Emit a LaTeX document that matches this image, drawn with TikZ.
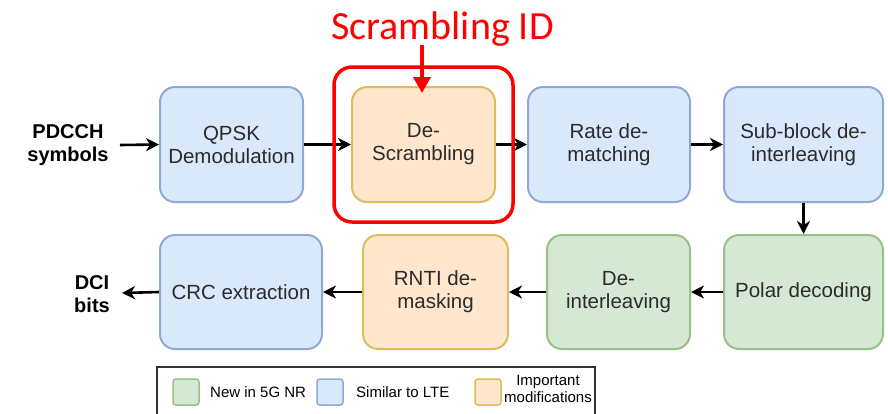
\documentclass[tikz,border=0pt]{standalone}
\usepackage{fontspec}
\setmainfont{Liberation Sans}
\newfontfamily\calibfont{Carlito}
\usetikzlibrary{arrows.meta}

\definecolor{blueFill}{HTML}{DAE8FC}
\definecolor{blueLine}{HTML}{8FA9D3}
\definecolor{greenFill}{HTML}{D5E8D4}
\definecolor{greenLine}{HTML}{98C08A}
\definecolor{orangeFill}{HTML}{FFE6CC}
\definecolor{orangeLine}{HTML}{DDBB5E}
\definecolor{boxText}{HTML}{2B2B2B}
\definecolor{hiRed}{HTML}{FF0000}

\tikzset{
  block/.style={draw, rounded corners=15pt, line width=2pt,
    minimum height=115pt, align=center, inner sep=2pt, text=boxText,
    font=\fontsize{20.5}{23}\selectfont},
  lte/.style={block, fill=blueFill, draw=blueLine},
  nr/.style={block, fill=greenFill, draw=greenLine},
  imp/.style={block, fill=orangeFill, draw=orangeLine},
  flow/.style={line width=2.6pt, -{Stealth[length=13pt,width=13pt,inset=4pt]}},
  io/.style={align=center, font=\fontsize{20}{23}\selectfont\bfseries, inner sep=0pt},
  swatch/.style={draw, rounded corners=3pt, line width=1.5pt,
    minimum width=26pt, minimum height=26pt, inner sep=0pt},
  legtext/.style={font=\fontsize{15}{16.5}\selectfont, inner sep=0pt, align=center}
}

\begin{document}
\begin{tikzpicture}[x=1pt,y=-1pt]
\useasboundingbox (0,0) rectangle (888,413);

% top row
\node[lte, minimum width=143pt] (qpsk) at (231.5,144.5) {QPSK\\Demodulation};
\node[imp, minimum width=143pt] (descr) at (423.5,144.5) {De-\\Scrambling};
\node[lte, minimum width=162pt] (rate) at (609,144.5) {Rate de-\\matching};
\node[lte, minimum width=159pt] (sub) at (803.5,144.5) {Sub-block de-\\interleaving};

% bottom row
\node[lte, minimum width=162pt, minimum height=114pt] (crc) at (241,292) {CRC extraction};
\node[imp, minimum width=145pt, minimum height=114pt] (rnti) at (435.5,292) {RNTI de-\\masking};
\node[nr, minimum width=143pt, minimum height=114pt] (deint) at (618.5,292) {De-\\interleaving};
\node[nr, minimum width=159pt, minimum height=114pt] (polar) at (803.5,292) {Polar decoding};

% input / output labels
\node[io] (pdcch) at (68,145) {PDCCH\\symbols};
\node[io] (dci) at (92,294) {DCI\\bits};
\coordinate (pdout) at (120,145);
\coordinate (dciin) at (122,293);

% processing chain
\draw[flow] (pdout) -- (qpsk.west);
\draw[flow] (qpsk.east) -- (descr.west);
\draw[flow] (descr.east) -- (rate.west);
\draw[flow] (rate.east) -- (sub.west);
\draw[flow] (sub.south) -- (polar.north);
\draw[flow] (polar.west) -- (deint.east);
\draw[flow] (deint.west) -- (rnti.east);
\draw[flow] (rnti.west) -- (crc.east);
\draw[flow] (crc.west) -- (dciin);

% highlighted scrambling stage
\draw[hiRed, line width=3.5pt, rounded corners=18pt] (334,67) rectangle (513,222);
\node[text=hiRed, font=\calibfont\fontsize{40}{44}\selectfont, inner sep=0pt, anchor=base]
  (sid) at (442.5,39) {Scrambling ID};
\coordinate (sidtail) at (422,45);
\coordinate (sidtip) at (422,93);
\draw[hiRed, line width=4pt, -{Triangle[length=16pt,width=17pt]}] (sidtail) -- (sidtip);

% legend
\draw[line width=1.6pt, draw=black!80] (157,416) |- (595,367) -- (595,416);
\node[swatch, fill=greenFill, draw=greenLine] (lgn) at (186,392) {};
\node[legtext, anchor=west] (lgnt) at (210,392) {New in 5G NR};
\node[swatch, fill=blueFill, draw=blueLine] (lgb) at (330,392) {};
\node[legtext, anchor=west] (lgbt) at (356,392) {Similar to LTE};
\node[swatch, fill=orangeFill, draw=orangeLine] (lgo) at (488,392) {};
\node[legtext] (lgot) at (548,389) {Important\\modifications};
\end{tikzpicture}
\end{document}
